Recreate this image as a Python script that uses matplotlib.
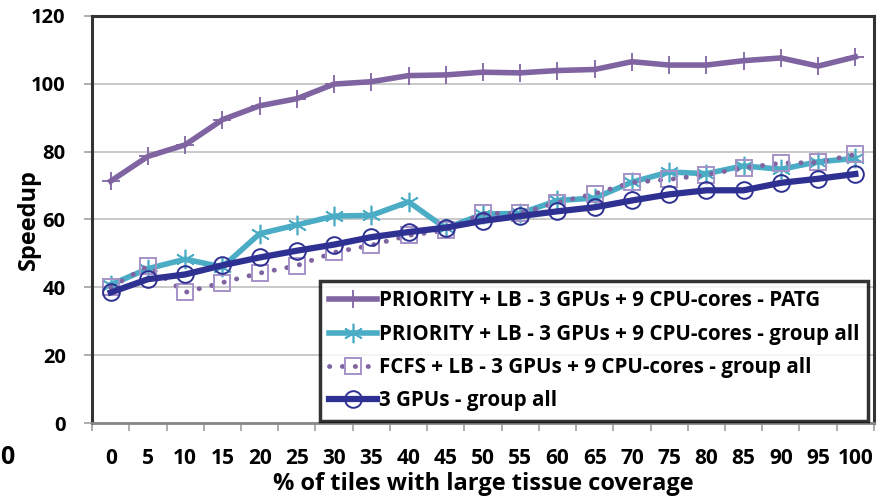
import matplotlib.pyplot as plt
import numpy as np

coverage = [0, 5, 10, 15, 20, 25, 30, 35, 40, 45, 50, 55, 60, 65, 70, 75, 80, 85, 90, 95, 100]

prio_patg = [71.3, 78.6, 82.0, 89.4, 93.5, 95.6, 99.9, 100.6, 102.4, 102.6, 103.4, 103.2,
             103.9, 104.2, 106.5, 105.5, 105.5, 106.8, 107.6, 105.2, 107.9]
prio_group = [40.8, 45.5, 48.3, 46.0, 55.8, 58.4, 61.0, 61.2, 65.2, 57.4, 61.6, 61.8,
              65.6, 66.3, 71.0, 74.0, 73.5, 75.8, 74.8, 77.0, 78.0]
fcfs_group = [40.0, 46.3, 38.5, 41.4, 44.2, 46.4, 50.3, 52.4, 55.3, 56.8, 61.8, 61.8,
              65.0, 67.6, 70.9, 71.8, 73.2, 75.2, 76.6, 76.8, 79.2]
gpu_group = [38.5, 42.4, 43.8, 46.5, 48.8, 50.8, 52.6, 54.8, 56.3, 57.6, 59.6, 61.0,
             62.4, 63.6, 65.6, 67.4, 68.6, 68.6, 70.8, 72.0, 73.4]

labels = ["PRIORITY + LB - 3 GPUs + 9 CPU-cores - PATG",
          "PRIORITY + LB - 3 GPUs + 9 CPU-cores - group all",
          "FCFS + LB - 3 GPUs + 9 CPU-cores - group all",
          "3 GPUs - group all"]

plt.rcParams['font.family'] = ['Open Sans', 'DejaVu Sans']
plt.rcParams['font.weight'] = 'bold'

fig = plt.figure(figsize=(8.77, 4.96), dpi=100)
ax = fig.add_axes([0.105, 0.147, 0.8915, 0.821])

x = np.arange(len(coverage))
ax.plot(x, prio_patg, color='#8064A2', lw=4, marker='+', ms=13, mew=1.3,
        label=labels[0], zorder=3)
ax.plot(x, prio_group, color='#4BACC6', lw=4, marker=(6, 2, 0), ms=14, mew=1.2,
        label=labels[1], zorder=3)
ax.plot(x, fcfs_group, color='#8064A2', lw=3.5, linestyle=(0, (0.05, 2.6)),
        dash_capstyle='round', marker='s', ms=12, mfc='none', mec='#A593C8', mew=1.4,
        label=labels[2], zorder=4)
ax.plot(x, gpu_group, color='#2E3192', lw=4.5, marker='o', ms=12, mfc='none',
        mec='#2E3192', mew=1.4, label=labels[3], zorder=5)

ax.set_xlim(-0.5, len(coverage) - 0.5)
ax.set_ylim(0, 120)
ax.set_yticks(np.arange(0, 121, 20))
ax.set_xticks(x)
ax.set_xticklabels([str(c) for c in coverage], fontsize=15, fontweight='bold')
ax.set_xticks(np.arange(-0.5, len(coverage), 1), minor=True)
ax.tick_params(axis='x', which='major', length=0, pad=18)
ax.tick_params(axis='x', which='minor', length=6, width=1.2, color='#a0a0a0')
ax.tick_params(axis='y', length=6, width=1.2, color='#a0a0a0', labelsize=14.5, pad=13)
for lab in ax.get_yticklabels():
    lab.set_fontweight('bold')

ax.grid(axis='y', color='#c0c0c0', lw=1.2)
ax.set_axisbelow(True)
for side in ['top', 'right', 'left']:
    ax.spines[side].set_color('#333333')
    ax.spines[side].set_linewidth(2.2)
ax.spines['bottom'].set_color('#888888')
ax.spines['bottom'].set_linewidth(2)

ax.set_ylabel('Speedup', fontsize=17, fontweight='bold')
ax.yaxis.set_label_coords(-0.066, 0.5)
ax.set_xlabel('% of tiles with large tissue coverage', fontsize=17, fontweight='bold')
ax.xaxis.set_label_coords(0.5, -0.12)

leg = ax.legend(loc='lower right', bbox_to_anchor=(0.993, 0.006), borderaxespad=0,
                fontsize=14.8, handlelength=2.3, handletextpad=0.1, labelspacing=0.6,
                frameon=True, fancybox=False, borderpad=0.45)
leg.get_frame().set_edgecolor('black')
leg.get_frame().set_linewidth(2.5)
for t in leg.get_texts():
    t.set_fontweight('bold')

fig.text(0.0, 0.077, '0', fontsize=18, ha='left', va='center')

fig.savefig('out.png', dpi=100)
